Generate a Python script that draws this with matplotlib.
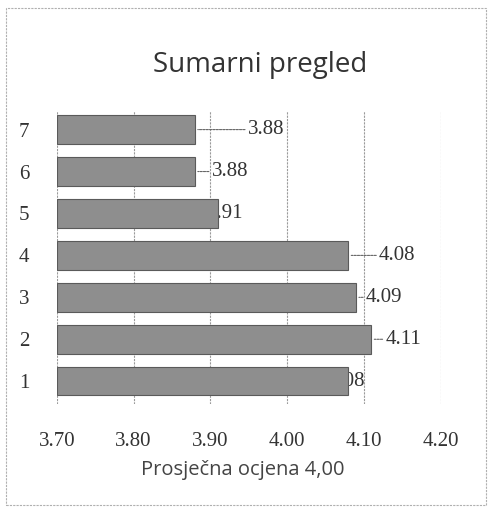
import matplotlib
matplotlib.use("Agg")
import matplotlib.pyplot as plt
from matplotlib.patches import Rectangle

categories = ["1", "2", "3", "4", "5", "6", "7"]
values = [4.08, 4.11, 4.09, 4.08, 3.91, 3.88, 3.88]
value_labels = ["4.08", "4.11", "4.09", "4.08", "3.91", "3.88", "3.88"]
xticks = [3.70, 3.80, 3.90, 4.00, 4.10, 4.20]
xtick_labels = ["3.70", "3.80", "3.90", "4.00", "4.10", "4.20"]
title = "Sumarni pregled"
xlabel = "Prosječna ocjena 4,00"

# label offsets in points (dx from bar end)
label_dx = [-14, 10, 7, 22, -8, 12, 38]

fig = plt.figure(figsize=(4.95, 5.15), dpi=100)
fig.patch.set_facecolor("white")
ax = fig.add_axes([0.115, 0.215, 0.775, 0.57])

y = list(range(len(categories)))
ax.barh(y, [v - 3.70 for v in values], left=3.70, height=0.68,
        color="#8e8e8e", edgecolor="#5a5a5a", linewidth=0.8, zorder=3)

ax.set_xlim(3.70, 4.20)
ax.set_ylim(-0.55, 6.45)
ax.set_xticks(xticks)
ax.set_xticklabels(xtick_labels, family="Liberation Serif", fontsize=15, color="#333333")
ax.set_yticks(y)
ax.set_yticklabels(categories, family="Liberation Serif", fontsize=15, color="#333333")
ax.tick_params(axis="x", length=0, pad=20)
ax.tick_params(axis="y", length=0, pad=20)
ax.grid(axis="x", color="#9a9a9a", linewidth=0.8, linestyle=(0, (2, 1)), zorder=0)
for s in ax.spines.values():
    s.set_visible(False)

for yi, v, lab, dx in zip(y, values, value_labels, label_dx):
    if dx > 0:
        ax.annotate(lab, xy=(v, yi), xytext=(dx, 0), textcoords="offset points",
                    ha="left", va="center", fontsize=15, family="Liberation Serif",
                    color="#333333", zorder=2,
                    arrowprops=dict(arrowstyle="-", color="#666666", lw=0.8,
                                    linestyle=(0, (2, 1)), shrinkA=0, shrinkB=2))
    else:
        ax.annotate(lab, xy=(v, yi), xytext=(dx, 0), textcoords="offset points",
                    ha="left", va="center", fontsize=15, family="Liberation Serif",
                    color="#333333", zorder=2)

fig.text(0.525, 0.873, title, ha="center", va="center", fontsize=20,
         family="Open Sans", color="#333333")
fig.text(0.49, 0.088, xlabel, ha="center", va="center", fontsize=14.5,
         family="Open Sans", color="#444444")

fig.add_artist(Rectangle((0.012, 0.02), 0.97, 0.965, transform=fig.transFigure,
                         fill=False, edgecolor="#b0b0b0", linewidth=0.8,
                         linestyle=(0, (2, 1))))

fig.savefig("out.png", dpi=100, facecolor="white")
